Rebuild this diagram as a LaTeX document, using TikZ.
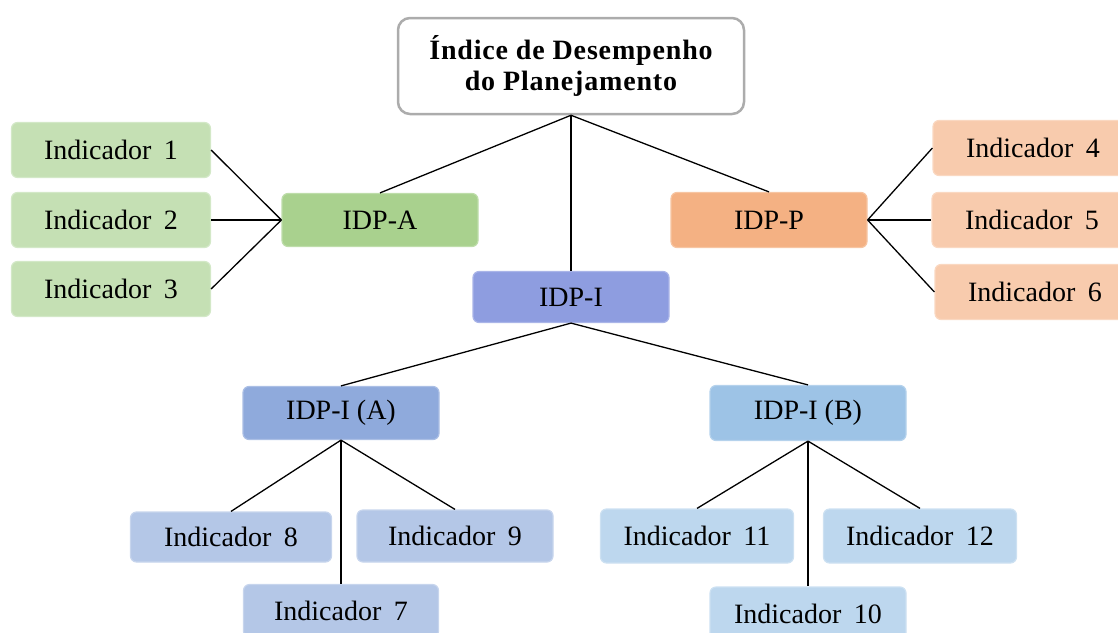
\documentclass[tikz,border=0pt]{standalone}
\usepackage{fontspec}
\setmainfont{Liberation Serif}
\usetikzlibrary{calc}

\definecolor{verdeA}{HTML}{A9D18E}
\definecolor{verdeInd}{HTML}{C5E0B4}
\definecolor{laranjaP}{HTML}{F4B183}
\definecolor{laranjaInd}{HTML}{F8CBAD}
\definecolor{azulI}{HTML}{8E9DE0}
\definecolor{azulIA}{HTML}{8FAADC}
\definecolor{azulIB}{HTML}{9DC3E6}
\definecolor{azulIndA}{HTML}{B4C7E7}
\definecolor{azulIndB}{HTML}{BDD7EE}

\newcommand{\ind}[1]{Indicador\hspace{0.45em}#1}

\begin{document}
\begin{tikzpicture}[
        x=1pt, y=-1pt,
        caixa/.style={rounded corners=6pt, minimum width=196pt, minimum height=53pt,
            inner sep=0pt, line width=1.2pt, font=\fontsize{28}{32}\selectfont},
        cx/.style={caixa, fill=#1, draw=#1!75!white},
        liga/.style={line width=1.3pt, black}
    ]
        \useasboundingbox (0,0) rectangle (1118,632);
        \clip (0,0) rectangle (1118,632);

        % topo
        \node[rounded corners=12pt, draw=gray!65, line width=2.5pt, fill=white,
            minimum width=346pt, minimum height=96pt, align=center,
            font=\fontsize{28}{31}\selectfont\bfseries\addfontfeature{LetterSpace=3}] (idp) at (571,66)
            {Índice de Desempenho\\do Planejamento};

        % nivel 1
        \node[cx=verdeA] (idpA) at (380,220) {IDP-A};
        \node[cx=laranjaP, minimum height=55pt] (idpP) at (769,220) {IDP-P};
        \node[cx=azulI, minimum height=51pt] (idpI) at (571,297) {IDP-I};

        % nivel 2
        \node[cx=azulIA] (idpIA) at (341,413) {IDP-I (A)};
        \node[cx=azulIB, minimum height=55pt] (idpIB) at (808,413) {IDP-I (B)};

        % indicadores
        \node[cx=verdeInd, minimum width=199pt, minimum height=55pt] (ind1) at (111,150) {\ind{1}};
        \node[cx=verdeInd, minimum width=199pt, minimum height=55pt] (ind2) at (111,220) {\ind{2}};
        \node[cx=verdeInd, minimum width=199pt, minimum height=55pt] (ind3) at (111,289) {\ind{3}};

        \node[cx=laranjaInd, minimum width=200pt, minimum height=55pt] (ind4) at (1033,148) {\ind{4}};
        \node[cx=laranjaInd, minimum width=200pt, minimum height=55pt] (ind5) at (1032,220) {\ind{5}};
        \node[cx=laranjaInd, minimum width=200pt, minimum height=55pt] (ind6) at (1035,292) {\ind{6}};

        \node[cx=azulIndA, minimum width=201pt, minimum height=50pt] (ind8) at (231,537) {\ind{8}};
        \node[cx=azulIndA, minimum height=52pt] (ind9) at (455,536) {\ind{9}};
        \node[cx=azulIndA, minimum width=195pt] (ind7) at (341,611) {\ind{7}};

        \node[cx=azulIndB, minimum width=193pt, minimum height=54pt] (ind11) at (697,536) {\ind{11}};
        \node[cx=azulIndB, minimum width=193pt, minimum height=54pt] (ind12) at (920,536) {\ind{12}};
        \node[cx=azulIndB, minimum height=54pt] (ind10) at (808,614) {\ind{10}};

        % ligacoes
        \draw[liga] (idp.south) -- (idpA.north);
        \draw[liga] (idp.south) -- (idpP.north);
        \draw[liga] (idp.south) -- (idpI.north);

        \foreach \i in {1,2,3}
            \draw[liga] (idpA.west) -- (ind\i.east);
        \foreach \i in {4,5,6}
            \draw[liga] (idpP.east) -- (ind\i.west);

        \draw[liga] (idpI.south) -- (idpIA.north);
        \draw[liga] (idpI.south) -- (idpIB.north);

        \foreach \i in {7,8,9}
            \draw[liga] (idpIA.south) -- (ind\i.north);
        \foreach \i in {10,11,12}
            \draw[liga] (idpIB.south) -- (ind\i.north);

    \end{tikzpicture}
\end{document}
